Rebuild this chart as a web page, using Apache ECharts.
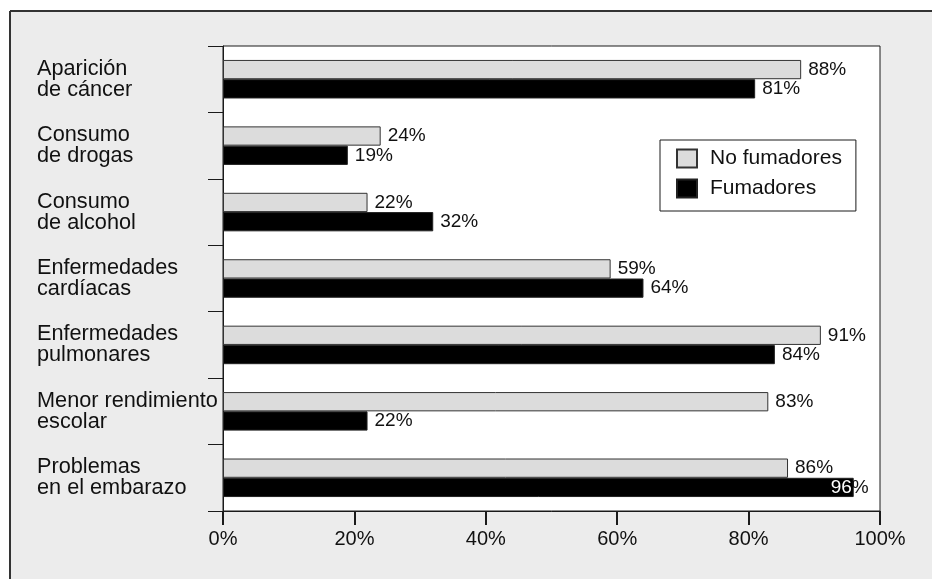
<!DOCTYPE html>
<html>
<head>
<meta charset="utf-8">
<script src="https://cdn.jsdelivr.net/npm/echarts@6/dist/echarts.min.js"></script>
<style>
  html, body { margin: 0; padding: 0; background: #fff; }
  #chart { width: 932px; height: 579px; }
</style>
</head>
<body>
<div id="chart"></div>
<script>
// Categories, top to bottom
const categories = [
  'Aparición\nde cáncer',
  'Consumo\nde drogas',
  'Consumo\nde alcohol',
  'Enfermedades\ncardíacas',
  'Enfermedades\npulmonares',
  'Menor rendimiento\nescolar',
  'Problemas\nen el embarazo'
];
// Percentages per group
const noFumadores = [88, 24, 22, 59, 91, 83, 86];
const fumadores   = [81, 19, 32, 64, 84, 22, 96];
const seriesNames = ['No fumadores', 'Fumadores'];

const FONT = 'Liberation Sans, Arial, Helvetica, sans-serif';
const INK = '#111';

const chart = echarts.init(document.getElementById('chart'), null, { renderer: 'canvas' });

// Value labels sit to the right of each bar; a bar that runs close to the
// frame gets its label pulled back over the bar end, digits in white.
function valueLabel(v) {
  if (v >= 95) {
    return {
      show: true,
      position: 'right',
      distance: 7,
      offset: [-30, 0],
      formatter: '{w|' + v + '}{k|%}',
      rich: {
        w: { color: '#fff', fontSize: 19, fontFamily: FONT },
        k: { color: INK, fontSize: 19, fontFamily: FONT }
      }
    };
  }
  return null;
}

function buildData(values) {
  return values.map(v => {
    const item = { value: v };
    const lbl = valueLabel(v);
    if (lbl) item.label = lbl;
    return item;
  });
}

const option = {
  backgroundColor: '#fff',
  animation: false,
  // Grey panel behind the chart, framed on its top and left edges
  graphic: [
    {
      type: 'rect', z: -10, silent: true,
      shape: { x: 10, y: 11, width: 2000, height: 2000 },
      style: { fill: '#ececec' }
    },
    {
      type: 'line', z: -9, silent: true,
      shape: { x1: 10, y1: 11, x2: 2000, y2: 11 },
      style: { stroke: '#333', lineWidth: 2 }
    },
    {
      type: 'line', z: -9, silent: true,
      shape: { x1: 10, y1: 11, x2: 10, y2: 2000 },
      style: { stroke: '#333', lineWidth: 2 }
    }
  ],
  grid: {
    left: 223, right: 52, top: 46, bottom: 68,
    show: true,
    backgroundColor: '#fff',
    borderColor: '#1a1a1a',
    borderWidth: 1,
    containLabel: false
  },
  legend: {
    orient: 'vertical',
    left: 660, top: 140,
    width: 196,
    backgroundColor: '#fff',
    borderColor: '#1a1a1a',
    borderWidth: 1,
    padding: [8, 14, 12, 16],
    itemWidth: 20,
    itemHeight: 18,
    itemGap: 9,
    icon: 'rect',
    data: seriesNames,
    textStyle: { fontSize: 21, color: INK, fontFamily: FONT, padding: [0, 0, 0, 8] }
  },
  xAxis: {
    type: 'value',
    min: 0, max: 100, interval: 20,
    splitLine: { show: false },
    axisLine: { show: true, lineStyle: { color: '#1a1a1a', width: 1 } },
    axisTick: { show: true, length: 14, lineStyle: { color: '#1a1a1a', width: 2 } },
    axisLabel: {
      formatter: '{value}%',
      fontSize: 20, color: INK, fontFamily: FONT, margin: 18
    }
  },
  yAxis: {
    type: 'category',
    inverse: true,
    data: categories,
    axisLine: { show: true, lineStyle: { color: '#1a1a1a', width: 1 } },
    axisTick: { show: true, length: 15, alignWithLabel: false, lineStyle: { color: '#1a1a1a', width: 1 } },
    axisLabel: {
      align: 'left',
      margin: 186,
      fontSize: 21.7,
      lineHeight: 21,
      color: INK,
      fontFamily: FONT
    },
    splitLine: { show: false }
  },
  series: [
    {
      name: seriesNames[0],
      type: 'bar',
      data: buildData(noFumadores),
      barGap: '0%',
      barCategoryGap: '42%',
      itemStyle: { color: '#dcdcdc', borderColor: '#333', borderWidth: 1 },
      label: {
        show: true, position: 'right', distance: 7,
        formatter: '{c}%', fontSize: 19, color: INK, fontFamily: FONT
      }
    },
    {
      name: seriesNames[1],
      type: 'bar',
      data: buildData(fumadores),
      barGap: '0%',
      barCategoryGap: '42%',
      itemStyle: { color: '#000', borderColor: '#222', borderWidth: 1 },
      label: {
        show: true, position: 'right', distance: 7,
        formatter: '{c}%', fontSize: 19, color: INK, fontFamily: FONT
      }
    }
  ]
};

chart.setOption(option);
</script>
</body>
</html>
